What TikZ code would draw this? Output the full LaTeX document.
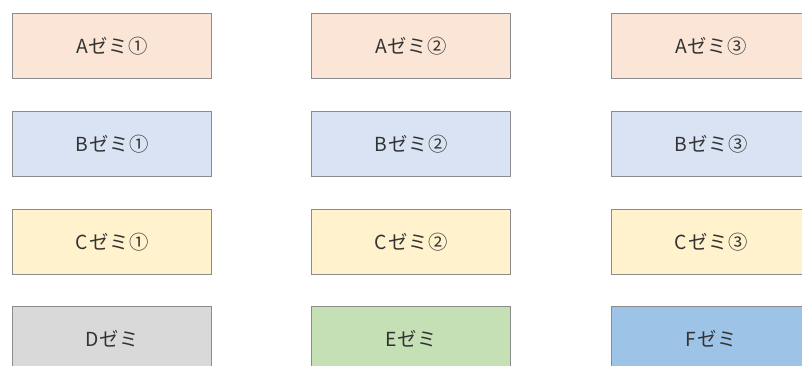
\documentclass[tikz,border=0pt]{standalone}
\usepackage{fontspec}
\setmainfont{Noto Sans CJK JP}[LetterSpace=4]
\definecolor{cA}{HTML}{FBE5D6}
\definecolor{cB}{HTML}{DAE3F3}
\definecolor{cC}{HTML}{FFF2CC}
\definecolor{cD}{HTML}{D9D9D9}
\definecolor{cE}{HTML}{C5E0B4}
\definecolor{cF}{HTML}{9DC3E6}
\definecolor{edge}{HTML}{8C8C8C}
\definecolor{txt}{HTML}{333333}
\begin{document}
\begin{tikzpicture}[x=0.75pt,y=-0.75pt,
  zemibox/.style={draw=edge,line width=0.75pt,minimum width=149.6pt,minimum height=48.75pt,inner sep=0pt,anchor=north west,font=\fontsize{14.5}{17}\selectfont,text=txt}]
\useasboundingbox (0,0) rectangle (802,365);
\clip (0,0) rectangle (802,365);
\node[zemibox,fill=cA] (a1) at (12,13) {Aゼミ①};
\node[zemibox,fill=cA] (a2) at (311,13) {Aゼミ②};
\node[zemibox,fill=cA] (a3) at (611,13) {Aゼミ③};
\node[zemibox,fill=cB] (b1) at (12,111) {Bゼミ①};
\node[zemibox,fill=cB] (b2) at (311,111) {Bゼミ②};
\node[zemibox,fill=cB] (b3) at (611,111) {Bゼミ③};
\node[zemibox,fill=cC] (c1) at (12,209) {Cゼミ①};
\node[zemibox,fill=cC] (c2) at (311,209) {Cゼミ②};
\node[zemibox,fill=cC] (c3) at (611,209) {Cゼミ③};
\node[zemibox,fill=cD] (d) at (12,306) {Dゼミ};
\node[zemibox,fill=cE] (e) at (311,306) {Eゼミ};
\node[zemibox,fill=cF] (f) at (611,306) {Fゼミ};
\end{tikzpicture}
\end{document}
